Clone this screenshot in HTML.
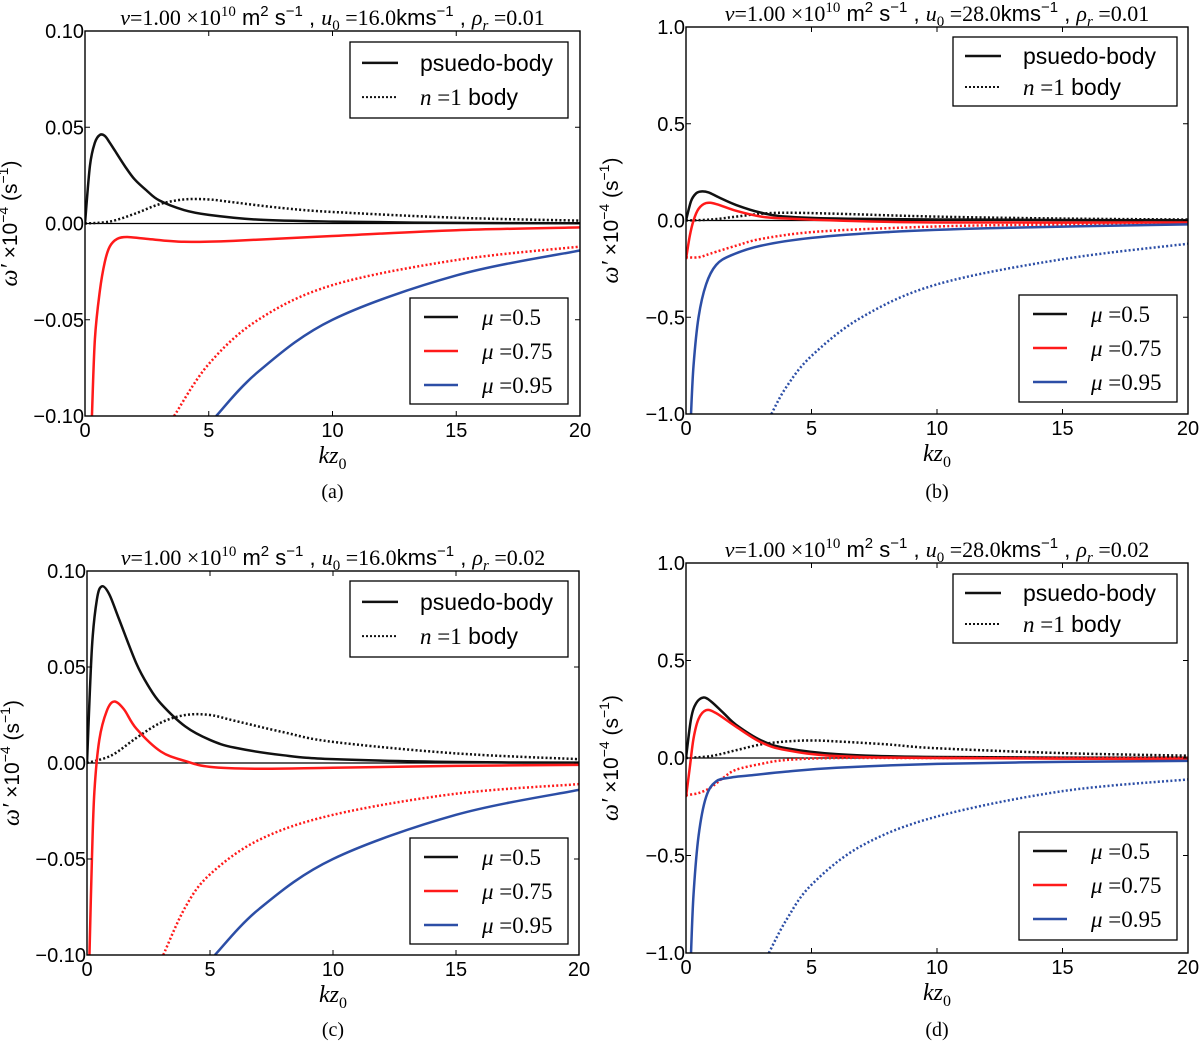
<!DOCTYPE html>
<html><head><meta charset="utf-8"><style>
body{margin:0;background:#fff;}
svg{display:block;}
text{font-family:"Liberation Sans",sans-serif;fill:#000;}
.serif{font-family:"Liberation Serif",serif;}
</style></head><body>
<svg id="fig" width="1200" height="1043" viewBox="0 0 1200 1043" xmlns="http://www.w3.org/2000/svg"></svg>
<script>
// ---- Panel (a) data ----
const aBlackSolidX=[0,0.2,0.4,0.6,0.8,1.0,1.2,1.6,2,2.5,3,4,5,7,10,15,20];
const aBlackSolidY=[0,0.03,0.042,0.046,0.0455,0.042,0.038,0.03,0.023,0.017,0.012,0.007,0.0045,0.002,0.001,0.0003,0.0001];
const aBlackDotX=[0,1,2,3,4,5,6,8,10,15,20];
const aBlackDotY=[0,0.001,0.005,0.010,0.0125,0.0125,0.011,0.008,0.006,0.003,0.0015];
const aRedSolidX=[0.28,0.4,0.6,0.8,1.0,1.3,1.7,2.5,4,6,10,15,20];
const aRedSolidY=[-0.1,-0.06,-0.035,-0.02,-0.012,-0.008,-0.007,-0.008,-0.0095,-0.009,-0.0065,-0.0035,-0.002];
const aRedDotX=[3.6,5,7,10,15,20];
const aRedDotY=[-0.1,-0.073,-0.05,-0.032,-0.019,-0.012];
const aBlueSolidX=[5.3,7,10,15,20];
const aBlueSolidY=[-0.1,-0.077,-0.05,-0.027,-0.014];
// ---- Panel (b) data ----
const bBlackSolidX=[0,0.2,0.4,0.6,0.9,1.3,2,3,4,6,10,20];
const bBlackSolidY=[0,0.1,0.14,0.15,0.145,0.12,0.08,0.04,0.02,0.01,0.005,0.001];
const bRedSolidX=[0,0.15,0.3,0.5,0.8,1.2,2,3,4,6,10,20];
const bRedSolidY=[-0.2,-0.08,0.0,0.06,0.09,0.085,0.05,0.02,0.01,0,-0.01,-0.01];
const bBlackDotX=[0,1,2,3,4,6,10,15,20];
const bBlackDotY=[0,0.005,0.02,0.035,0.04,0.035,0.02,0.01,0.005];
const bRedDotX=[0,0.5,1,2,3,5,8,12,20];
const bRedDotY=[-0.19,-0.19,-0.17,-0.13,-0.095,-0.06,-0.04,-0.025,-0.015];
const bBlueSolidX=[0.2,0.3,0.5,0.8,1.2,1.8,3,5,8,12,20];
const bBlueSolidY=[-1,-0.75,-0.5,-0.33,-0.23,-0.18,-0.13,-0.09,-0.06,-0.04,-0.02];
const bBlueDotX=[3.4,4,5,7,10,15,20];
const bBlueDotY=[-1,-0.86,-0.7,-0.5,-0.33,-0.2,-0.12];
// ---- Panel (c) data ----
const cBlackSolidX=[0,0.2,0.4,0.6,0.9,1.3,2,2.5,3,4,5,6,8,10,15,20];
const cBlackSolidY=[0,0.06,0.085,0.092,0.088,0.075,0.052,0.04,0.031,0.019,0.012,0.008,0.004,0.002,0.0005,0.0002];
const cRedSolidX=[0.1,0.2,0.3,0.5,0.8,1.1,1.5,2,3,4,5,7,10,15,20];
const cRedSolidY=[-0.1,-0.05,-0.015,0.012,0.027,0.032,0.028,0.018,0.006,0.001,-0.002,-0.003,-0.0025,-0.0015,-0.001];
const cBlackDotX=[0,1,2,3,4,5,6,8,10,15,20];
const cBlackDotY=[0,0.004,0.013,0.021,0.025,0.025,0.022,0.016,0.011,0.005,0.002];
const cRedDotX=[3.1,4,5,7,10,15,20];
const cRedDotY=[-0.1,-0.075,-0.058,-0.04,-0.027,-0.016,-0.011];
const cBlueSolidX=[5.2,7,10,15,20];
const cBlueSolidY=[-0.1,-0.076,-0.05,-0.027,-0.014];
// ---- Panel (d) data ----
const dBlackSolidX=[0,0.2,0.4,0.7,1,1.5,2,3,4,6,10,20];
const dBlackSolidY=[0,0.2,0.28,0.31,0.29,0.23,0.17,0.09,0.05,0.02,0.005,0.001];
const dRedSolidX=[0,0.15,0.3,0.5,0.8,1.2,2,3,4,6,10,20];
const dRedSolidY=[-0.2,-0.05,0.1,0.2,0.245,0.23,0.16,0.08,0.04,0.01,0,-0.005];
const dBlackDotX=[0,1,2,3,4,5,6,8,10,15,20];
const dBlackDotY=[0,0.01,0.04,0.07,0.085,0.09,0.085,0.07,0.05,0.025,0.012];
const dRedDotX=[0,0.5,1,1.5,2,3,4,6,10,20];
const dRedDotY=[-0.19,-0.18,-0.15,-0.1,-0.06,-0.03,-0.01,0,0,0];
const dBlueSolidX=[0.2,0.3,0.5,0.8,1.2,1.8,2.5,4,6,10,15,20];
const dBlueSolidY=[-1,-0.7,-0.4,-0.2,-0.12,-0.1,-0.09,-0.07,-0.05,-0.03,-0.02,-0.015];
const dBlueDotX=[3.3,4,5,7,10,15,20];
const dBlueDotY=[-1,-0.83,-0.65,-0.45,-0.3,-0.17,-0.11];
// ---- ticks ----
const xTicks=[0,5,10,15,20];
const yTicksSmall=[-0.10,-0.05,0.00,0.05,0.10];
const yTickLabelsSmall=["\u22120.10","\u22120.05","0.00","0.05","0.10"];
const yTicksLarge=[-1,-0.5,0,0.5,1];
const yTickLabelsLarge=["\u22121.0","\u22120.5","0.0","0.5","1.0"];

const NS="http://www.w3.org/2000/svg";
const svg=document.getElementById('fig');
const BLACK="#111", RED="#ff1a1a", BLUE="#2c4ea6";
function mk(tag,attrs,parent){const e=document.createElementNS(NS,tag);for(const k in attrs)e.setAttribute(k,attrs[k]);(parent||svg).appendChild(e);return e;}

const panels=[
 {id:'a',L:85,R:580,T:31,B:416,ymax:0.1,rho:"0.01",u:"16.0",cap:"(a)",capY:498,
  series:[[aBlackSolidX,aBlackSolidY,BLACK,0],[aBlackDotX,aBlackDotY,BLACK,1],[aRedSolidX,aRedSolidY,RED,0],[aRedDotX,aRedDotY,RED,1],[aBlueSolidX,aBlueSolidY,BLUE,0]],
  leg1:[350,42,218,76],leg2:[410,298,158,106]},
 {id:'b',L:686,R:1188,T:27,B:414,ymax:1,rho:"0.01",u:"28.0",cap:"(b)",capY:498,
  series:[[bBlackSolidX,bBlackSolidY,BLACK,0],[bBlackDotX,bBlackDotY,BLACK,1],[bRedSolidX,bRedSolidY,RED,0],[bRedDotX,bRedDotY,RED,1],[bBlueSolidX,bBlueSolidY,BLUE,0],[bBlueDotX,bBlueDotY,BLUE,1]],
  leg1:[953,37,224,69],leg2:[1019,295,158,107]},
 {id:'c',L:87,R:579,T:571,B:955,ymax:0.1,rho:"0.02",u:"16.0",cap:"(c)",capY:1036,
  series:[[cBlackSolidX,cBlackSolidY,BLACK,0],[cBlackDotX,cBlackDotY,BLACK,1],[cRedSolidX,cRedSolidY,RED,0],[cRedDotX,cRedDotY,RED,1],[cBlueSolidX,cBlueSolidY,BLUE,0]],
  leg1:[350,581,218,76],leg2:[410,838,158,106]},
 {id:'d',L:686,R:1188,T:563,B:953,ymax:1,rho:"0.02",u:"28.0",cap:"(d)",capY:1036,
  series:[[dBlackSolidX,dBlackSolidY,BLACK,0],[dBlackDotX,dBlackDotY,BLACK,1],[dRedSolidX,dRedSolidY,RED,0],[dRedDotX,dRedDotY,RED,1],[dBlueSolidX,dBlueSolidY,BLUE,0],[dBlueDotX,dBlueDotY,BLUE,1]],
  leg1:[953,574,224,69],leg2:[1019,832,158,108]}
];

function catmull(pts){
  let d="M"+pts[0][0].toFixed(2)+","+pts[0][1].toFixed(2);
  for(let i=0;i<pts.length-1;i++){
    const p0=pts[Math.max(0,i-1)],p1=pts[i],p2=pts[i+1],p3=pts[Math.min(pts.length-1,i+2)];
    const c1=[p1[0]+(p2[0]-p0[0])/6,p1[1]+(p2[1]-p0[1])/6];
    const c2=[p2[0]-(p3[0]-p1[0])/6,p2[1]-(p3[1]-p1[1])/6];
    d+=" C"+c1[0].toFixed(2)+","+c1[1].toFixed(2)+" "+c2[0].toFixed(2)+","+c2[1].toFixed(2)+" "+p2[0].toFixed(2)+","+p2[1].toFixed(2);
  }
  return d;
}

panels.forEach(p=>{
  const g=mk('g',{});
  
  
  const xs=v=>p.L+(v/20)*(p.R-p.L);
  const ys=v=>p.T+(p.ymax-v)/(2*p.ymax)*(p.B-p.T);
  const cid='clip'+p.id;
  const cp=mk('clipPath',{id:cid},g);mk('rect',{x:p.L,y:p.T,width:p.R-p.L,height:p.B-p.T},cp);
  const z=mk('line',{x1:p.L,x2:p.R,y1:ys(0),y2:ys(0),stroke:'#000','stroke-width':1.2},g);
  
  
  const names=['pseudo-body-mu-0.5','n1-body-mu-0.5','pseudo-body-mu-0.75','n1-body-mu-0.75','pseudo-body-mu-0.95','n1-body-mu-0.95'];
  p.series.forEach((s,i)=>{
    const pts=s[0].map((x,j)=>[xs(x),ys(s[1][j])]);
    const path=mk('path',{d:catmull(pts),fill:'none',stroke:s[2],'stroke-width':2.5,'clip-path':'url(#'+cid+')'},g);
    if(s[3])path.setAttribute('stroke-dasharray','2 2.2');
    
    
  });
  const fr=mk('rect',{x:p.L,y:p.T,width:p.R-p.L,height:p.B-p.T,fill:'none',stroke:'#000','stroke-width':1.4},g);
  
  
  xTicks.forEach(t=>{
    const x=xs(t);
    mk('line',{x1:x,x2:x,y1:p.B,y2:p.B-5,stroke:'#000'},g);
    mk('line',{x1:x,x2:x,y1:p.T,y2:p.T+5,stroke:'#000'},g);
    const tx=mk('text',{x:x,y:p.B+21,'text-anchor':'middle','font-size':20},g);tx.textContent=String(t);
    
    
  });
  const yt=p.ymax<1?yTicksSmall:yTicksLarge, yl=p.ymax<1?yTickLabelsSmall:yTickLabelsLarge;
  yt.forEach((t,i)=>{
    const y=ys(t);
    mk('line',{x1:p.L,x2:p.L+5,y1:y,y2:y,stroke:'#000'},g);
    mk('line',{x1:p.R,x2:p.R-5,y1:y,y2:y,stroke:'#000'},g);
    const tx=mk('text',{x:p.L-1,y:y+7,'text-anchor':'end','font-size':20},g);tx.textContent=yl[i];
    
    
  });
  const xl=mk('text',{x:(p.L+p.R)/2,y:p.B+47,'text-anchor':'middle','font-size':24,'font-style':'italic','class':'serif'},g);
  xl.innerHTML='kz<tspan font-size="16" dy="6" font-style="normal">0</tspan>';
  
  
  const yx=p.L-68, yy=(p.T+p.B)/2;
  const ylb=mk('text',{x:yx,y:yy,'text-anchor':'middle','font-size':21,transform:'rotate(-90 '+yx+' '+yy+')'},g);
  ylb.innerHTML='<tspan class="serif" font-style="italic" font-size="24">ω′</tspan> ×10<tspan font-size="14" dy="-9">−4</tspan><tspan dy="9">  (s</tspan><tspan font-size="14" dy="-9">−1</tspan><tspan dy="9">)</tspan>';
  
  
  const ti=mk('text',{x:(p.L+p.R)/2,y:p.T-6,'text-anchor':'middle','font-size':22},g);
  ti.innerHTML='<tspan class="serif" font-style="italic">ν</tspan><tspan class="serif">=1.00 ×10</tspan><tspan class="serif" font-size="15" dy="-9">10</tspan><tspan dy="9">  m</tspan><tspan font-size="15" dy="-9">2</tspan><tspan dy="9"> s</tspan><tspan font-size="15" dy="-9">−1</tspan><tspan dy="9"> , </tspan><tspan class="serif" font-style="italic">u</tspan><tspan class="serif" font-size="15" dy="5">0</tspan><tspan class="serif" dy="-5"> ='+p.u+'</tspan><tspan>kms</tspan><tspan font-size="15" dy="-9">−1</tspan><tspan dy="9"> , </tspan><tspan class="serif" font-style="italic">ρ</tspan><tspan class="serif" font-style="italic" font-size="15" dy="5">r</tspan><tspan class="serif" dy="-5"> =0.'+p.rho.slice(2)+'</tspan>';
  
  
  const l1=mk('g',{},g);
  
  
  const [a,b,w,h]=p.leg1;
  mk('rect',{x:a,y:b,width:w,height:h,fill:'#fff',stroke:'#000','stroke-width':1.3},l1);
  const r1=h/2;
  mk('line',{x1:a+12,x2:a+48,y1:b+r1*0.55,y2:b+r1*0.55,stroke:BLACK,'stroke-width':2.5},l1);
  mk('line',{x1:a+12,x2:a+48,y1:b+h-r1*0.55,y2:b+h-r1*0.55,stroke:BLACK,'stroke-width':2,'stroke-dasharray':'2 2'},l1);
  let t=mk('text',{x:a+70,y:b+r1*0.55+8,'font-size':23},l1);t.textContent='psuedo-body';
  t=mk('text',{x:a+70,y:b+h-r1*0.55+8,'font-size':23},l1);
  t.innerHTML='<tspan class="serif" font-style="italic">n</tspan><tspan class="serif"> =1</tspan> body';
  const l2=mk('g',{},g);
  
  
  const [a2,b2,w2,h2]=p.leg2;
  mk('rect',{x:a2,y:b2,width:w2,height:h2,fill:'#fff',stroke:'#000','stroke-width':1.3},l2);
  [[BLACK,'0.5'],[RED,'0.75'],[BLUE,'0.95']].forEach((e,i)=>{
    const y=b2+19+i*34;
    mk('line',{x1:a2+14,x2:a2+48,y1:y,y2:y,stroke:e[0],'stroke-width':2.5},l2);
    const tt=mk('text',{x:a2+72,y:y+8,'font-size':23,'class':'serif'},l2);
    tt.innerHTML='<tspan font-style="italic">μ</tspan> =' + e[1];
  });
  const cap=mk('text',{x:(p.L+p.R)/2,y:p.capY,'text-anchor':'middle','font-size':20,'class':'serif'},g);
  cap.textContent=p.cap;
  
  
});
</script>
</body></html>
